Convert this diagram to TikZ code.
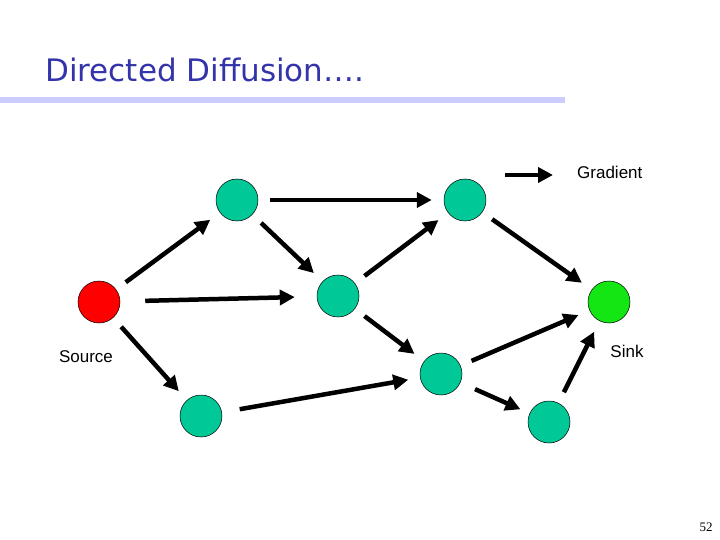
\documentclass[tikz,border=0pt]{standalone}
\usepackage{fontspec}
\setmainfont{Liberation Sans}
\newfontfamily\titlefont{DejaVu Sans}
\newfontfamily\numfont{Liberation Serif}
\usetikzlibrary{arrows.meta}
\definecolor{teal1}{RGB}{0,200,150}
\definecolor{sinkg}{RGB}{20,230,20}
\definecolor{titleb}{RGB}{51,51,170}
\definecolor{barc}{RGB}{204,204,255}
\begin{document}
\begin{tikzpicture}[x=1pt,y=-1pt,
  nd/.style={circle,draw=black,line width=0.5pt,fill=teal1,minimum size=42pt,inner sep=0pt},
  ar/.style={line width=4.5pt,-{Triangle[length=15pt,width=15pt]},shorten <=12pt,shorten >=12pt},
  lbl/.style={font=\fontsize{17}{19}\selectfont,inner sep=0pt}]
\useasboundingbox (0,0) rectangle (720,540);
\node[anchor=west,text=titleb,font=\titlefont\fontsize{31}{36}\selectfont,inner sep=0pt] (title) at (45,70) {Directed Diffusion….};
\fill[barc] (0,97) rectangle (565,103);
\node[nd,fill=red] (src) at (99,302) {};
\node[nd] (a) at (237,200) {};
\node[nd] (b) at (465,200) {};
\node[nd] (c) at (338,296) {};
\node[nd] (d) at (441,374) {};
\node[nd] (e) at (201,416) {};
\node[nd] (f) at (549,422) {};
\node[nd,fill=sinkg] (sink) at (609,302) {};
\draw[ar] (src) -- (a);
\draw[ar] (a) -- (b);
\draw[ar] (a) -- (c);
\draw[ar,shorten <=25pt,shorten >=22pt] (src) -- (c);
\draw[ar] (c) -- (b);
\draw[ar] (b) -- (sink);
\draw[ar] (c) -- (d);
\draw[ar] (src) -- (e);
\draw[ar,shorten <=18pt,shorten >=12pt] (e) -- (d);
\draw[ar] (d) -- (sink);
\draw[ar,shorten <=16pt,shorten >=10pt] (d) -- (f);
\draw[ar] (f) -- (sink);
\coordinate (g1) at (505,175);
\coordinate (g2) at (553,175);
\draw[ar,shorten <=0pt,shorten >=0pt] (g1) -- (g2);
\node[lbl,anchor=west] (gl) at (577,172) {Gradient};
\node[lbl] (sl) at (86,357) {Source};
\node[lbl] (kl) at (627,351) {Sink};
\node[font=\numfont\fontsize{13}{14}\selectfont,inner sep=0pt] (pn) at (706,527) {52};
\end{tikzpicture}
\end{document}
